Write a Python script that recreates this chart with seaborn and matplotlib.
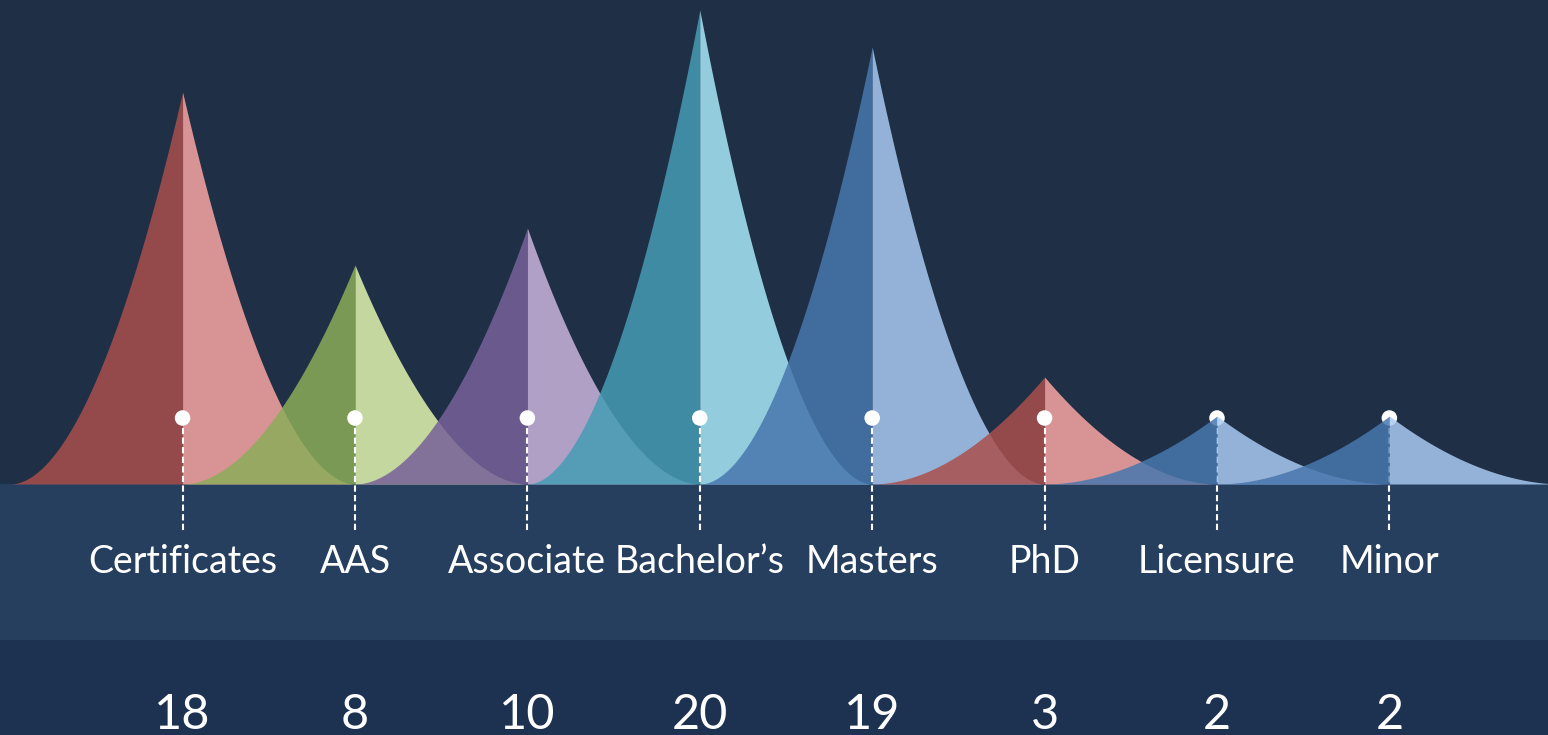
import matplotlib
matplotlib.use("Agg")
import matplotlib.pyplot as plt
import numpy as np
import seaborn as sns

categories = ["Certificates", "AAS", "Associate", "Bachelor’s", "Masters", "PhD", "Licensure", "Minor"]
counts = [18, 8, 10, 20, 19, 3, 2, 2]
# height of each spike as drawn (baseline = 0), not proportional to the counts
peak_heights = [392, 219, 256, 474, 437, 107, 68, 68]

left_colors = ["#AA4F4D", "#8BAC58", "#776199", "#459CB5", "#4877AE", "#AA4F4D", "#4877AE", "#4877AE"]
right_colors = ["#FAA6A2", "#E1F5AE", "#CAB5DE", "#A8E8F7", "#AACAF1", "#FAA6A2", "#AACAF1", "#AACAF1"]

bg = "#1F3046"
band = "#263F5F"
band_low = "#1D3150"

sns.set_style("white")
plt.rcParams["font.family"] = ["Lato", "DejaVu Sans"]

fig = plt.figure(figsize=(15.48, 7.35), dpi=100, facecolor=bg)
ax = fig.add_axes([0, 0, 1, 1])
ax.set_facecolor(bg)
ax.set_xlim(-1.059, 7.92)
ax.set_ylim(-251, 484)
ax.axis("off")

ax.axhspan(-156, 0, color=band, lw=0, zorder=0)
ax.axhspan(-251, -156, color=band_low, lw=0, zorder=0)

dot_y = 66
pos = np.arange(len(categories))
u = np.linspace(0, 1, 300)
for i, h in enumerate(peak_heights):
    # low spikes sit on top of their marker, as in the original
    z = 4 if h < dot_y + 8 else 2
    curve = h * (1 - u) ** 1.9
    ax.fill_between(i - u, 0, curve, color=left_colors[i], alpha=0.85, lw=0, zorder=z)
    ax.fill_between(i + u, 0, curve, color=right_colors[i], alpha=0.85, lw=0, zorder=z)

ax.vlines(pos, -46, dot_y, colors="white", linewidth=1.5,
          linestyles=(0, (3, 1.6)), zorder=3)
sns.scatterplot(x=pos, y=[dot_y] * len(pos), s=125, color="white",
                edgecolor="none", zorder=3, ax=ax, legend=False)

for i, (cat, n) in enumerate(zip(categories, counts)):
    ax.text(i, -78, cat, ha="center", va="center", fontsize=27,
            color="white")
    ax.text(i, -231, str(n), ha="center", va="center", fontsize=35,
            color="white")

fig.savefig("out.png", dpi=100, facecolor=bg)
